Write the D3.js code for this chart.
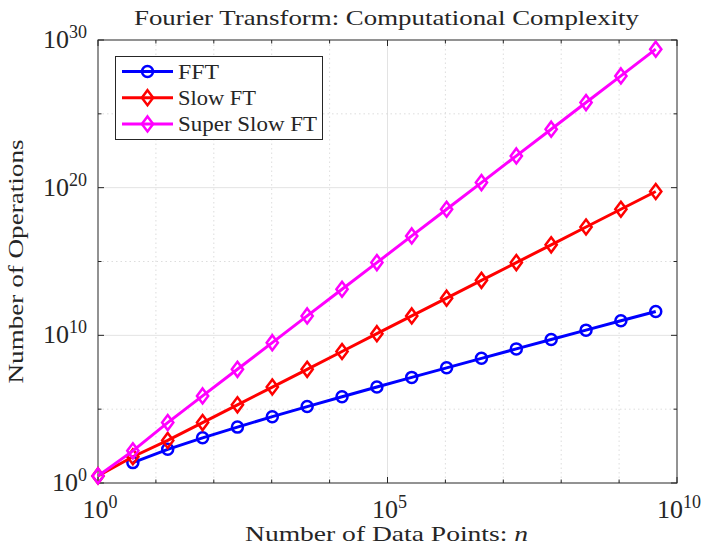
<!DOCTYPE html>
<html>
<head>
<meta charset="utf-8">
<script src="https://cdnjs.cloudflare.com/ajax/libs/d3/7.8.5/d3.min.js"></script>
<style>
  body { margin: 0; background: #fff; }
  svg text { font-family: "Liberation Serif", "DejaVu Serif", serif; fill: #262626; }
</style>
</head>
<body>
<div id="chart"></div>
<script>
// valeurs (n = 4^k)
const nPoints = [1, 4, 16, 64, 256, 1024, 4096, 16384, 65536, 262144, 1048576,
  4194304, 16777216, 67108864, 268435456, 1073741824, 4294967296];
const fftOps = [null, 24, 1.9e2, 1.15e3, 6.1e3, 3.1e4, 1.5e5, 6.9e5, 3.15e6, 1.42e7,
  6.3e7, 2.77e8, 1.21e9, 5.2e9, 2.25e10, 9.7e10, 4.1e11];
const slowOps = [3, 60, 7.7e2, 1.23e4, 1.97e5, 3.15e6, 5.0e7, 8.0e8, 1.29e10, 2.06e11,
  3.3e12, 5.3e13, 8.4e14, 1.35e16, 2.16e17, 3.46e18, 5.5e19];
const superSlowOps = [3, 150, 1.23e4, 7.9e5, 5.0e7, 3.2e9, 2.06e11, 1.32e13, 8.4e14,
  5.4e16, 3.46e18, 2.2e20, 1.42e22, 9.1e23, 5.8e25, 3.7e27, 2.4e29];
const seriesNames = ["FFT", "Slow FT", "Super Slow FT"];
const xTickExps = [0, 5, 10];
const yTickExps = [0, 10, 20, 30];

const W = 703, H = 553;
const plotL = 98, plotR = 677, plotT = 40, plotB = 483;

const svg = d3.select("#chart").append("svg")
  .attr("width", W).attr("height", H);

const x = d3.scaleLog().domain([1, 1e10]).range([plotL, plotR]);
const y = d3.scaleLog().domain([1, 1e30]).range([plotB, plotT]);

// grille
const grid = svg.append("g");
d3.range(1, 10).forEach(e => {
  grid.append("line")
    .attr("x1", x(Math.pow(10, e))).attr("x2", x(Math.pow(10, e)))
    .attr("y1", plotT).attr("y2", plotB)
    .attr("stroke", e === 5 ? "#e3e3e3" : "#d4d4d4")
    .attr("stroke-width", e === 5 ? 1 : 0.8)
    .attr("stroke-dasharray", e === 5 ? null : "1.5,3");
});
[5, 10, 15, 20, 25].forEach(e => {
  const major = e % 10 === 0;
  grid.append("line")
    .attr("x1", plotL).attr("x2", plotR)
    .attr("y1", y(Math.pow(10, e))).attr("y2", y(Math.pow(10, e)))
    .attr("stroke", major ? "#e3e3e3" : "#d4d4d4")
    .attr("stroke-width", major ? 1 : 0.8)
    .attr("stroke-dasharray", major ? null : "1.5,3");
});

// cadre + graduations
const axisG = svg.append("g").attr("stroke", "#262626").attr("stroke-width", 1);
axisG.append("rect")
  .attr("x", plotL).attr("y", plotT).attr("width", plotR - plotL).attr("height", plotB - plotT)
  .attr("fill", "none");
d3.range(0, 11).forEach(e => {
  const len = e % 5 === 0 ? 6 : 3.5;
  const px = x(Math.pow(10, e));
  axisG.append("line").attr("x1", px).attr("x2", px).attr("y1", plotB).attr("y2", plotB - len);
  axisG.append("line").attr("x1", px).attr("x2", px).attr("y1", plotT).attr("y2", plotT + len);
});
d3.range(0, 31, 5).forEach(e => {
  const len = e % 10 === 0 ? 6 : 3.5;
  const py = y(Math.pow(10, e));
  axisG.append("line").attr("x1", plotL).attr("x2", plotL + len).attr("y1", py).attr("y2", py);
  axisG.append("line").attr("x1", plotR).attr("x2", plotR - len).attr("y1", py).attr("y2", py);
});

// étiquettes
xTickExps.forEach(e => {
  const t = svg.append("text")
    .attr("x", x(Math.pow(10, e)) + 2).attr("y", 518)
    .attr("text-anchor", "middle").style("font-size", "26px");
  t.append("tspan").text("10");
  t.append("tspan").attr("dy", -10).style("font-size", "18px").text(e);
});
yTickExps.forEach(e => {
  const t = svg.append("text")
    .attr("x", plotL - 11).attr("y", y(Math.pow(10, e)) + 8)
    .attr("text-anchor", "end").style("font-size", "26px");
  t.append("tspan").text("10");
  t.append("tspan").attr("dy", -10).style("font-size", "18px").text(e);
});

svg.append("text")
  .attr("x", 134).attr("y", 25)
  .attr("textLength", 505).attr("lengthAdjust", "spacingAndGlyphs")
  .style("font-size", "21px")
  .text("Fourier Transform: Computational Complexity");

const xl = svg.append("text")
  .attr("x", 245).attr("y", 541)
  .attr("textLength", 283).attr("lengthAdjust", "spacingAndGlyphs")
  .style("font-size", "21px");
xl.append("tspan").text("Number of Data Points: ");
xl.append("tspan").style("font-style", "italic").text("n");

svg.append("text")
  .attr("transform", `translate(23, ${(plotT + plotB) / 2}) rotate(-90)`)
  .attr("x", -122)
  .attr("textLength", 244).attr("lengthAdjust", "spacingAndGlyphs")
  .style("font-size", "21px")
  .text("Number of Operations");

// séries
const colors = ["#0000ff", "#ff0000", "#ff00ff"];
const allSeries = [fftOps, slowOps, superSlowOps];
const line = d3.line()
  .defined(d => d[1] != null)
  .x(d => x(d[0])).y(d => y(d[1]));

const diamond = (cx, cy, s) => `M${cx},${cy - s}L${cx + s * 0.75},${cy}L${cx},${cy + s}L${cx - s * 0.75},${cy}Z`;

function marker(g, i, cx, cy) {
  if (i === 0) {
    g.append("circle").attr("cx", cx).attr("cy", cy).attr("r", 5.5)
      .attr("fill", "none").attr("stroke", colors[i]).attr("stroke-width", 2.5);
  } else {
    g.append("path").attr("d", diamond(cx, cy, 7.5))
      .attr("fill", "none").attr("stroke", colors[i]).attr("stroke-width", 2.5);
  }
}

allSeries.forEach((vals, i) => {
  const data = nPoints.map((n, j) => [n, vals[j]]);
  const g = svg.append("g");
  g.append("path").datum(data).attr("d", line)
    .attr("fill", "none").attr("stroke", colors[i]).attr("stroke-width", 3);
  data.filter(d => d[1] != null).forEach(d => marker(g, i, x(d[0]), y(d[1])));
});

// légende
const legendWidths = [41, 78, 139];
const lg = svg.append("g");
lg.append("rect").attr("x", 115.5).attr("y", 56.5).attr("width", 207).attr("height", 83)
  .attr("fill", "#fff").attr("stroke", "#262626").attr("stroke-width", 1);
seriesNames.forEach((name, i) => {
  const cy = 71.5 + i * 26.2;
  lg.append("line").attr("x1", 122).attr("x2", 173).attr("y1", cy).attr("y2", cy)
    .attr("stroke", colors[i]).attr("stroke-width", 3);
  marker(lg, i, 147.5, cy);
  lg.append("text").attr("x", 178).attr("y", cy + 7)
    .attr("textLength", legendWidths[i]).attr("lengthAdjust", "spacingAndGlyphs")
    .style("font-size", "21px").text(name);
});
</script>
</body>
</html>
